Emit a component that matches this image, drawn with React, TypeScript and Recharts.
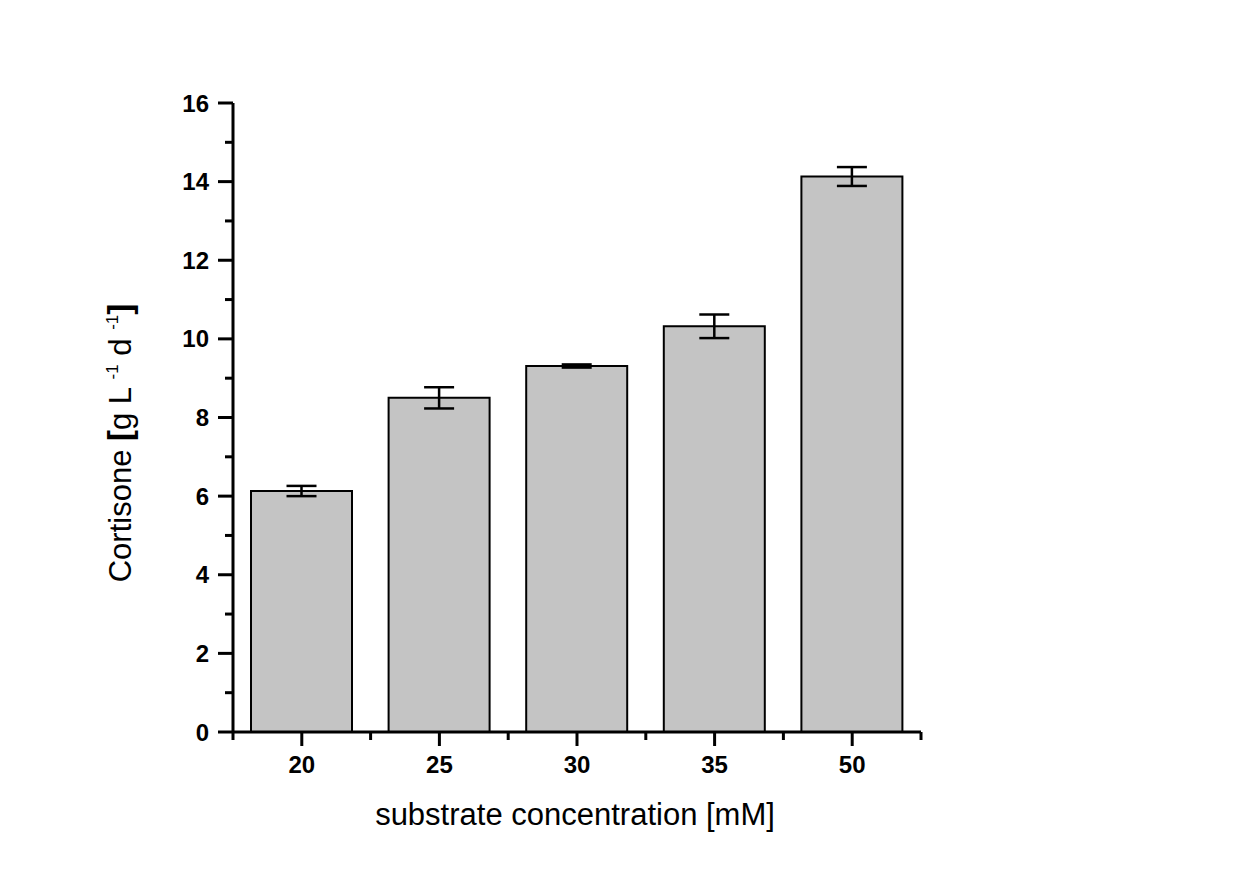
import React from 'react';
import { BarChart, Bar, XAxis, YAxis, ErrorBar } from 'recharts';

// Data
const categories = ['20', '25', '30', '35', '50'];
const cortisone = [6.13, 8.5, 9.31, 10.32, 14.13];
const errors = [0.13, 0.27, 0.04, 0.3, 0.24];
const yTicks = [0, 1, 2, 3, 4, 5, 6, 7, 8, 9, 10, 11, 12, 13, 14, 15, 16];

const data = categories.map((c, i) => ({ name: c, value: cortisone[i], err: errors[i] }));

// Layout
const W = 1244;
const H = 856;
const MARGIN = { top: 95, right: 331, bottom: 72, left: 125 };
const Y_AXIS_W = 100;
const X_AXIS_H = 60;
const PLOT_W = W - MARGIN.left - MARGIN.right - Y_AXIS_W;
const STEP = PLOT_W / categories.length;
const FONT = '"Liberation Sans", Arial, sans-serif';

const YTick = (props: any) => {
  const { x, y, payload } = props;
  const major = payload.value % 2 === 0;
  return (
    <g>
      <line x1={x - (major ? 15 : 8)} x2={x} y1={y} y2={y} stroke="#000" strokeWidth={3} />
      {major && (
        <text x={x - 24} y={y} dy={8.5} textAnchor="end" fontSize={24} fontWeight="bold" fontFamily={FONT} fill="#000">
          {payload.value}
        </text>
      )}
    </g>
  );
};

const XTick = (props: any) => {
  const { x, y, payload, index } = props;
  const half = STEP / 2;
  return (
    <g>
      <line x1={x} x2={x} y1={y} y2={y + 14} stroke="#000" strokeWidth={3} />
      <line x1={x - half} x2={x - half} y1={y} y2={y + 8} stroke="#000" strokeWidth={3} />
      {index === categories.length - 1 && (
        <line x1={x + half} x2={x + half} y1={y} y2={y + 8} stroke="#000" strokeWidth={3} />
      )}
      <text x={x} y={y + 41} textAnchor="middle" fontSize={24} fontWeight="bold" fontFamily={FONT} fill="#000">
        {payload.value}
      </text>
    </g>
  );
};

const YLabel = () => (
  <text
    x={0}
    y={0}
    transform="translate(123, 435) rotate(-90)"
    textAnchor="middle"
    fontSize={31}
    fontFamily={FONT}
    fill="#000"
  >
    <tspan>Cortisone </tspan>
    <tspan fontWeight="bold" fontSize={33}>[</tspan>
    <tspan>g L </tspan>
    <tspan fontSize={17} dy={-13}>-1</tspan>
    <tspan dy={13}> d </tspan>
    <tspan fontSize={17} dy={-13}>-1</tspan>
    <tspan dy={13} fontWeight="bold" fontSize={33}>]</tspan>
  </text>
);

const XLabel = () => (
  <text x={567} y={817} textAnchor="middle" fontSize={31} fontFamily={FONT} fill="#000">
    substrate concentration [mM]
  </text>
);

export default function App() {
  return (
    <div style={{ width: W, height: H, background: '#fff' }}>
      <BarChart width={W} height={H} data={data} margin={MARGIN} barSize={101}>
        <XAxis
          dataKey="name"
          height={X_AXIS_H}
          interval={0}
          tickSize={0}
          tickMargin={0}
          tickLine={false}
          tick={<XTick />}
          axisLine={{ stroke: '#000', strokeWidth: 3 }}
          label={<XLabel />}
        />
        <YAxis
          width={Y_AXIS_W}
          domain={[0, 16]}
          ticks={yTicks}
          interval={0}
          tickSize={0}
          tickMargin={0}
          tickLine={false}
          tick={<YTick />}
          axisLine={{ stroke: '#000', strokeWidth: 3 }}
          label={<YLabel />}
        />
        <Bar dataKey="value" fill="#c4c4c4" stroke="#000" strokeWidth={2} isAnimationActive={false}>
          <ErrorBar dataKey="err" width={15} stroke="#000" strokeWidth={2.5} />
        </Bar>
      </BarChart>
    </div>
  );
}
